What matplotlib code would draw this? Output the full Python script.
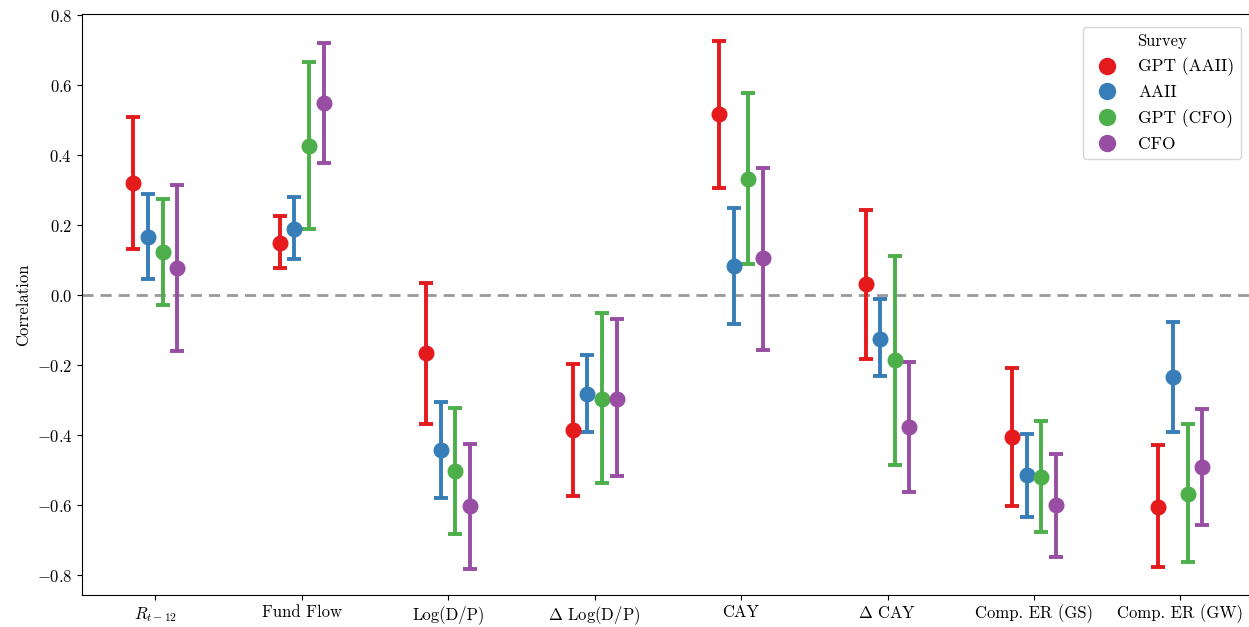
import matplotlib
matplotlib.use('Agg')
import matplotlib.pyplot as plt
from matplotlib.lines import Line2D
import numpy as np

plt.rcParams['font.family'] = 'serif'
plt.rcParams['font.serif'] = ['cmr10']
plt.rcParams['mathtext.fontset'] = 'cm'
plt.rcParams['axes.formatter.use_mathtext'] = True
plt.rcParams['axes.unicode_minus'] = True

categories = [r'$R_{t-12}$', 'Fund Flow', 'Log(D/P)', r'$\Delta$ Log(D/P)',
              'CAY', r'$\Delta$ CAY', 'Comp. ER (GS)', 'Comp. ER (GW)']
surveys = ['GPT (AAII)', 'AAII', 'GPT (CFO)', 'CFO']
colors = ['#e41a1c', '#377eb8', '#4daf4a', '#984ea3']

# point estimates per survey
gpt_aaii = [0.321, 0.150, -0.166, -0.386, 0.517, 0.031, -0.405, -0.604]
aaii = [0.166, 0.190, -0.443, -0.281, 0.084, -0.124, -0.514, -0.233]
gpt_cfo = [0.124, 0.427, -0.503, -0.295, 0.333, -0.185, -0.518, -0.567]
cfo = [0.078, 0.548, -0.603, -0.295, 0.105, -0.376, -0.600, -0.490]

# confidence interval bounds
gpt_aaii_lo = [0.133, 0.078, -0.369, -0.573, 0.306, -0.182, -0.603, -0.777]
gpt_aaii_hi = [0.510, 0.225, 0.035, -0.196, 0.727, 0.243, -0.207, -0.429]
aaii_lo = [0.046, 0.103, -0.579, -0.391, -0.083, -0.232, -0.634, -0.390]
aaii_hi = [0.290, 0.280, -0.306, -0.172, 0.250, -0.012, -0.397, -0.077]
gpt_cfo_lo = [-0.029, 0.189, -0.683, -0.537, 0.088, -0.484, -0.677, -0.763]
gpt_cfo_hi = [0.274, 0.666, -0.322, -0.052, 0.578, 0.113, -0.360, -0.369]
cfo_lo = [-0.159, 0.377, -0.781, -0.517, -0.155, -0.562, -0.747, -0.656]
cfo_hi = [0.314, 0.720, -0.425, -0.068, 0.364, -0.192, -0.452, -0.325]

means = [gpt_aaii, aaii, gpt_cfo, cfo]
lows = [gpt_aaii_lo, aaii_lo, gpt_cfo_lo, cfo_lo]
highs = [gpt_aaii_hi, aaii_hi, gpt_cfo_hi, cfo_hi]

fig = plt.figure(figsize=(12.49, 6.27), dpi=100)
ax = fig.add_axes([0.0657, 0.051, 0.938, 0.9266])

ax.axhline(0, color='#999999', linestyle='--', linewidth=2, dashes=(4, 2.5), zorder=1)

x = np.arange(len(categories))
offsets = [-0.15, -0.05, 0.05, 0.15]
for m, lo, hi, c, off in zip(means, lows, highs, colors, offsets):
    m = np.array(m)
    err = [m - np.array(lo), np.array(hi) - m]
    ax.errorbar(x + off, m, yerr=err, fmt='o', color=c, ecolor=c,
                markersize=10.5, elinewidth=2.8, capsize=5, capthick=2.8, zorder=3)

ax.set_xticks(x)
ax.set_xticklabels(categories, fontsize=12)
ax.set_xlim(-0.5, 7.5)
ax.set_ylim(-0.856, 0.803)
ax.set_yticks([-0.8, -0.6, -0.4, -0.2, 0.0, 0.2, 0.4, 0.6, 0.8])
ax.tick_params(axis='y', labelsize=12)
ax.set_ylabel('Correlation', fontsize=12)
ax.spines['right'].set_visible(False)

handles = [Line2D([], [], marker='o', color=c, linestyle='', markersize=11.5) for c in colors]
ax.legend(handles, surveys, title='Survey', loc='upper right', fontsize=12.5,
          title_fontsize=12, bbox_to_anchor=(0.997, 0.993), handletextpad=0.8)

fig.savefig('out.png', dpi=100)
